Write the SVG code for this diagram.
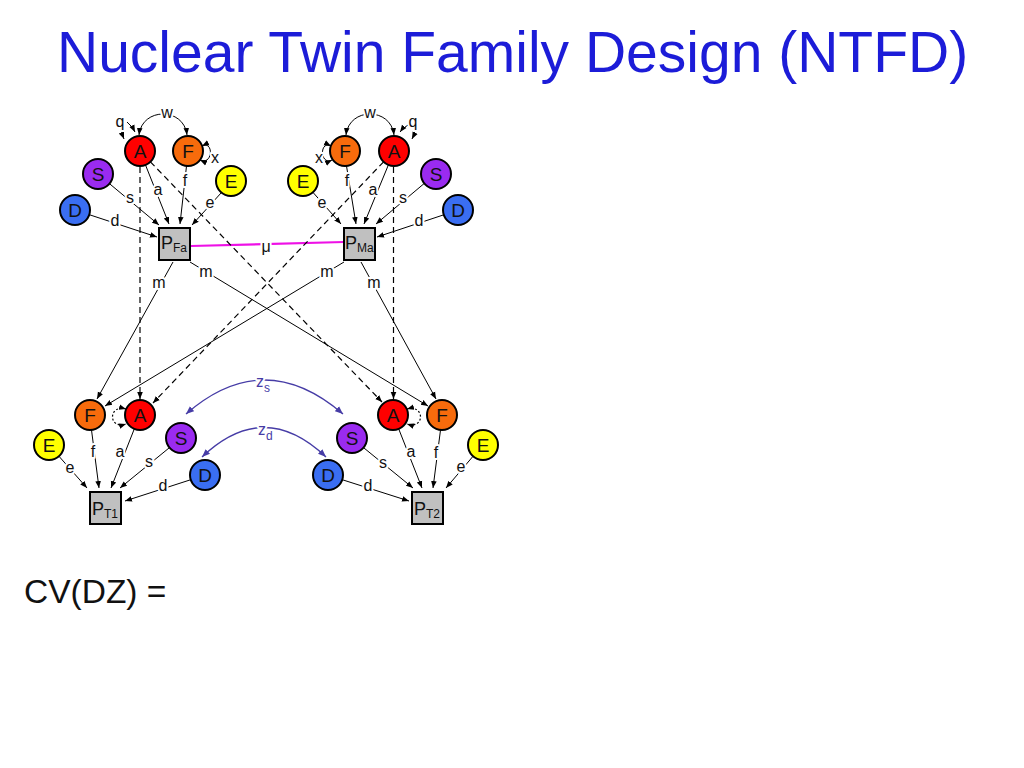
<svg xmlns="http://www.w3.org/2000/svg" width="1024" height="768" viewBox="0 0 1024 768">
<defs>
<marker id="ah" viewBox="0 0 10 10" refX="10" refY="5" markerWidth="7" markerHeight="7" orient="auto-start-reverse" markerUnits="userSpaceOnUse"><path d="M0,1 L10,5 L0,9 z" fill="#000"/></marker>
<marker id="ahp" viewBox="0 0 10 10" refX="10" refY="5" markerWidth="8" markerHeight="8" orient="auto-start-reverse" markerUnits="userSpaceOnUse"><path d="M0,1 L10,5 L0,9 z" fill="#463ca6"/></marker>
<style>
.t{font-family:"Liberation Sans",Arial,sans-serif}
.title{font-size:57px;fill:#1c1cd8}
.nd circle{stroke:#000;stroke-width:2}
.nt{font-size:19px;text-anchor:middle;fill:#111}
.A{fill:#ff0000}.F{fill:#f76b0c}.S{fill:#9a2bf0}.E{fill:#ffff00}.D{fill:#3a6ef2}
.box{fill:#c0c0c0;stroke:#000;stroke-width:2}
.pl{font-size:18px;fill:#111}.sb{font-size:12px}
.ln{stroke:#000;stroke-width:1;fill:none;marker-end:url(#ah)}
.dl{stroke:#000;stroke-width:1.2;fill:none;stroke-dasharray:6,4;marker-end:url(#ah)}
.bi{stroke:#000;stroke-width:1;fill:none;marker-start:url(#ah);marker-end:url(#ah)}
.dot{stroke:#000;stroke-width:1.2;fill:none;stroke-dasharray:2,2;marker-start:url(#ah);marker-end:url(#ah)}
.pz{stroke:#463ca6;stroke-width:1.3;fill:none;marker-start:url(#ahp);marker-end:url(#ahp)}
.lb{font-size:16px;text-anchor:middle;fill:#111;paint-order:stroke;stroke:#fff;stroke-width:4px;stroke-linejoin:round}
.zl{font-size:16px;fill:#463ca6;paint-order:stroke;stroke:#fff;stroke-width:4px;stroke-linejoin:round}
</style>
</defs>
<rect width="1024" height="768" fill="#fff"/>
<text class="t title" x="57" y="72">Nuclear Twin Family Design (NTFD)</text>

<g id="connectors">
<!-- top left paths -->
<line class="ln" x1="145.5" y1="165" x2="169" y2="224"/>
<line class="ln" x1="186.5" y1="166" x2="180" y2="224"/>
<line class="ln" x1="221.4" y1="192.6" x2="192" y2="225"/>
<line class="ln" x1="109.5" y1="183.7" x2="159" y2="225"/>
<line class="ln" x1="89.3" y1="214.7" x2="157" y2="237"/>
<!-- top right paths -->
<line class="ln" x1="388.4" y1="164.9" x2="364" y2="224"/>
<line class="ln" x1="346.5" y1="166" x2="356" y2="224"/>
<line class="ln" x1="312.9" y1="192.3" x2="341" y2="224"/>
<line class="ln" x1="424.3" y1="183.4" x2="376" y2="224"/>
<line class="ln" x1="443.8" y1="214.8" x2="377" y2="237"/>
<!-- w, q, x -->
<path class="bi" d="M139,135 C 142,107 184,107 187,135"/>
<path class="bi" d="M346,135 C 349,107 391,107 394,135"/>
<path class="ln" d="M121,129 Q 122,134 124,139"/>
<path class="ln" d="M127,122 Q 132,126 135,132"/>
<path class="ln" d="M408,125 Q 403,128 400,132"/>
<path class="ln" d="M415,130 Q 414,135 412,139"/>
<path class="bi" d="M202,146 C 214,140 213,166 200,160"/>
<path class="bi" d="M331,146 C 319,140 320,166 332,160"/>
<!-- mu -->
<line x1="191" y1="246" x2="344" y2="242" stroke="#ee10e6" stroke-width="2.2"/>
<!-- dashed A -->
<line class="dl" x1="140" y1="167" x2="140" y2="399"/>
<line class="dl" x1="150.4" y1="161.8" x2="382" y2="402"/>
<line class="dl" x1="393.5" y1="167" x2="393.5" y2="399"/>
<line class="dl" x1="383.6" y1="161.8" x2="153" y2="403"/>
<!-- m -->
<line class="ln" x1="173" y1="262" x2="97" y2="399"/>
<line class="ln" x1="190" y1="262" x2="428" y2="406"/>
<line class="ln" x1="344" y1="262" x2="105" y2="406"/>
<line class="ln" x1="361" y1="262" x2="436" y2="399"/>
<!-- bottom left paths -->
<line class="ln" x1="58.9" y1="456.2" x2="87" y2="488"/>
<line class="ln" x1="91.5" y1="430" x2="99" y2="488"/>
<line class="ln" x1="134.3" y1="428.9" x2="111" y2="488"/>
<line class="ln" x1="169.5" y1="447.6" x2="120" y2="488"/>
<line class="ln" x1="190.8" y1="479.7" x2="125" y2="501"/>
<!-- bottom right paths -->
<line class="ln" x1="398.7" y1="428.9" x2="422" y2="488"/>
<line class="ln" x1="440.5" y1="430" x2="433" y2="488"/>
<line class="ln" x1="473.1" y1="456.2" x2="446" y2="488"/>
<line class="ln" x1="363.5" y1="447.6" x2="413" y2="488"/>
<line class="ln" x1="342.2" y1="479.7" x2="409" y2="501"/>
<!-- dotted self loops -->
<path class="dot" d="M126,409 C 108,404 108,430 126,424"/>
<path class="dot" d="M407,409 C 425,404 425,430 407,424"/>
<!-- z arcs -->
<path class="pz" d="M186,414 Q 264,346 343,414"/>
<path class="pz" d="M202,457 Q 264,398 326,457"/>

<!-- labels -->
<text class="t lb" x="167" y="118">w</text>
<text class="t lb" x="120" y="127">q</text>
<text class="t lb" x="215" y="163">x</text>
<text class="t lb" x="158" y="195">a</text>
<text class="t lb" x="185" y="186">f</text>
<text class="t lb" x="210" y="208">e</text>
<text class="t lb" x="130" y="203">s</text>
<text class="t lb" x="115" y="226">d</text>
<text class="t lb" x="370" y="118">w</text>
<text class="t lb" x="413" y="127">q</text>
<text class="t lb" x="319" y="163">x</text>
<text class="t lb" x="373" y="195">a</text>
<text class="t lb" x="347" y="186">f</text>
<text class="t lb" x="322" y="208">e</text>
<text class="t lb" x="403" y="203">s</text>
<text class="t lb" x="419" y="226">d</text>
<text class="t lb" x="266" y="252">μ</text>
<text class="t lb" x="159" y="288">m</text>
<text class="t lb" x="206" y="277">m</text>
<text class="t lb" x="327" y="277">m</text>
<text class="t lb" x="374" y="288">m</text>
<text class="t lb" x="70" y="473">e</text>
<text class="t lb" x="93" y="457">f</text>
<text class="t lb" x="120" y="457">a</text>
<text class="t lb" x="149" y="467">s</text>
<text class="t lb" x="163" y="491">d</text>
<text class="t lb" x="411" y="457">a</text>
<text class="t lb" x="436" y="458">f</text>
<text class="t lb" x="461" y="472">e</text>
<text class="t lb" x="383" y="468">s</text>
<text class="t lb" x="368" y="491">d</text>
<text class="t zl" x="256" y="387">z<tspan class="sb" dy="5">s</tspan></text>
<text class="t zl" x="258" y="435">z<tspan class="sb" dy="5">d</tspan></text>
</g>

<g id="A_Fa" class="nd"><circle class="A" cx="140" cy="151" r="15"/><text class="t nt" x="140" y="158">A</text></g>
<g id="F_Fa" class="nd"><circle class="F" cx="188" cy="151" r="15"/><text class="t nt" x="188" y="158">F</text></g>
<g id="S_Fa" class="nd"><circle class="S" cx="98" cy="174" r="15"/><text class="t nt" x="98" y="181">S</text></g>
<g id="E_Fa" class="nd"><circle class="E" cx="231" cy="181" r="15"/><text class="t nt" x="231" y="188">E</text></g>
<g id="D_Fa" class="nd"><circle class="D" cx="75" cy="210" r="15"/><text class="t nt" x="75" y="217">D</text></g>
<g id="P_Fa"><rect class="box" x="159" y="228" width="31" height="32"/><text class="t pl" x="161" y="249">P<tspan class="sb" dy="3">Fa</tspan></text></g>

<g id="F_Ma" class="nd"><circle class="F" cx="345" cy="151" r="15"/><text class="t nt" x="345" y="158">F</text></g>
<g id="A_Ma" class="nd"><circle class="A" cx="394" cy="151" r="15"/><text class="t nt" x="394" y="158">A</text></g>
<g id="E_Ma" class="nd"><circle class="E" cx="303" cy="181" r="15"/><text class="t nt" x="303" y="188">E</text></g>
<g id="S_Ma" class="nd"><circle class="S" cx="436" cy="174" r="15"/><text class="t nt" x="436" y="181">S</text></g>
<g id="D_Ma" class="nd"><circle class="D" cx="458" cy="210" r="15"/><text class="t nt" x="458" y="217">D</text></g>
<g id="P_Ma"><rect class="box" x="344" y="228" width="31" height="32"/><text class="t pl" x="345" y="249">P<tspan class="sb" dy="3">Ma</tspan></text></g>

<g id="F_T1" class="nd"><circle class="F" cx="90" cy="415" r="15"/><text class="t nt" x="90" y="422">F</text></g>
<g id="A_T1" class="nd"><circle class="A" cx="140" cy="415" r="15"/><text class="t nt" x="140" y="422">A</text></g>
<g id="E_T1" class="nd"><circle class="E" cx="49" cy="445" r="15"/><text class="t nt" x="49" y="452">E</text></g>
<g id="S_T1" class="nd"><circle class="S" cx="181" cy="438" r="15"/><text class="t nt" x="181" y="445">S</text></g>
<g id="D_T1" class="nd"><circle class="D" cx="205" cy="475" r="15"/><text class="t nt" x="205" y="482">D</text></g>
<g id="P_T1"><rect class="box" x="90" y="492" width="31" height="32"/><text class="t pl" x="92" y="515">P<tspan class="sb" dy="3">T1</tspan></text></g>

<g id="A_T2" class="nd"><circle class="A" cx="393" cy="415" r="15"/><text class="t nt" x="393" y="422">A</text></g>
<g id="F_T2" class="nd"><circle class="F" cx="442" cy="415" r="15"/><text class="t nt" x="442" y="422">F</text></g>
<g id="S_T2" class="nd"><circle class="S" cx="352" cy="438" r="15"/><text class="t nt" x="352" y="445">S</text></g>
<g id="E_T2" class="nd"><circle class="E" cx="483" cy="445" r="15"/><text class="t nt" x="483" y="452">E</text></g>
<g id="D_T2" class="nd"><circle class="D" cx="328" cy="475" r="15"/><text class="t nt" x="328" y="482">D</text></g>
<g id="P_T2"><rect class="box" x="412" y="492" width="31" height="32"/><text class="t pl" x="414" y="515">P<tspan class="sb" dy="3">T2</tspan></text></g>

<text class="t" x="24" y="603" font-size="33.5" fill="#111">CV(DZ) =</text>
</svg>
